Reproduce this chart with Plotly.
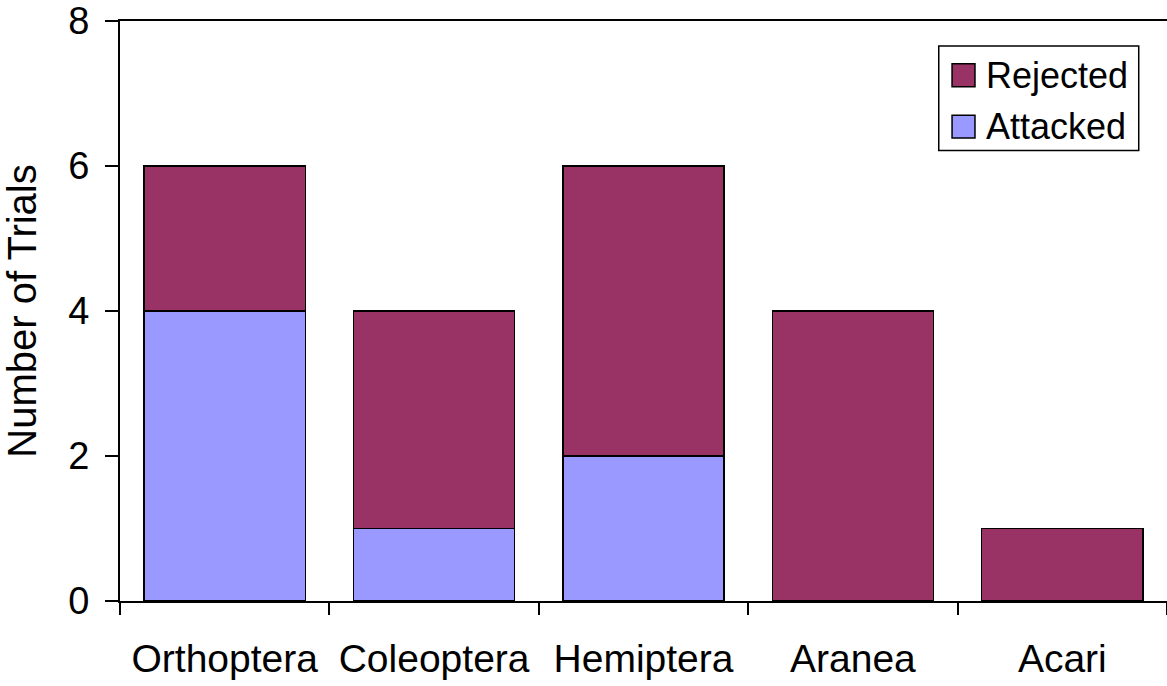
import plotly.graph_objects as go

# Prey orders offered and outcome counts per order
categories = ["Orthoptera", "Coleoptera", "Hemiptera", "Aranea", "Acari"]
attacked = [4, 1, 2, 0, 0]
rejected = [2, 3, 4, 4, 1]

series_names = ["Rejected", "Attacked"]
series_colors = {"Rejected": "#993366", "Attacked": "#9999FF"}

y_ticks = [0, 2, 4, 6, 8]

FONT = "Liberation Sans, Arial, sans-serif"

fig = go.Figure()
fig.add_trace(go.Bar(
    x=categories, y=attacked, name="Attacked",
    marker=dict(color=series_colors["Attacked"], line=dict(color="black", width=1.5)),
    showlegend=False,
))
fig.add_trace(go.Bar(
    x=categories, y=rejected, name="Rejected",
    marker=dict(color=series_colors["Rejected"], line=dict(color="black", width=1.5)),
    showlegend=False,
))

# Legend box drawn in paper coordinates
shapes = []
annotations = []
shapes.append(dict(type="rect", xref="paper", yref="paper",
                   x0=0.782, x1=0.973, y0=0.7766, y1=0.957,
                   line=dict(color="black", width=1.5), fillcolor="white", layer="above"))
row_y = [0.9063, 0.8179]
for name, ry in zip(series_names, row_y):
    shapes.append(dict(type="rect", xref="paper", yref="paper",
                       x0=0.7947, x1=0.8166, y0=ry - 0.0198, y1=ry + 0.0198,
                       line=dict(color="black", width=1.5),
                       fillcolor=series_colors[name], layer="above"))
    annotations.append(dict(xref="paper", yref="paper", x=0.8255, y=ry,
                            text=name, showarrow=False, xanchor="left", yanchor="middle",
                            font=dict(family=FONT, size=36, color="black")))

fig.update_layout(
    barmode="stack",
    bargap=0.23,
    width=1167, height=686,
    margin=dict(l=120, r=0, t=19, b=85),
    paper_bgcolor="white", plot_bgcolor="white",
    font=dict(family=FONT, size=38, color="black"),
    shapes=shapes,
    annotations=annotations,
    xaxis=dict(
        showline=True, linecolor="black", linewidth=2, mirror=True,
        ticks="outside", tickson="boundaries", ticklen=12, tickwidth=1.5, tickcolor="black",
        ticklabelstandoff=22, ticklabeloverflow="allow",
        tickfont=dict(family=FONT, size=39, color="black"),
        showgrid=False, zeroline=False,
    ),
    yaxis=dict(
        range=[0, 8], tickvals=y_ticks,
        showline=True, linecolor="black", linewidth=2,
        ticks="outside", ticklen=13, tickwidth=1.5, tickcolor="black",
        ticklabelstandoff=8, ticklabeloverflow="allow",
        tickfont=dict(family=FONT, size=38, color="black"),
        showgrid=False, zeroline=False,
        title=dict(text="Number of Trials", font=dict(family=FONT, size=40, color="black"), standoff=20),
    ),
)

fig.write_html("out.html")
